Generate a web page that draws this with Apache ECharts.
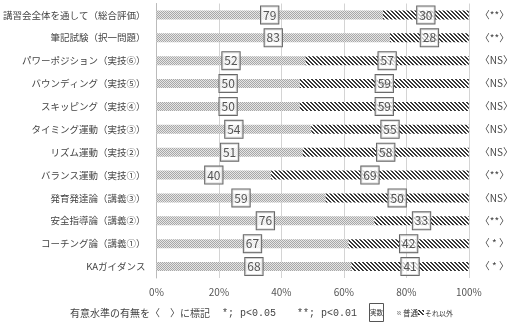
<!DOCTYPE html>
<html><head><meta charset="utf-8">
<script src="https://cdn.jsdelivr.net/npm/echarts@6/dist/echarts.min.js"></script>
<style>html,body{margin:0;padding:0;background:#fff}#c{width:516px;height:329px}</style>
</head><body><div id="c"></div>
<script>
const categories = ['講習会全体を通して（総合評価）','筆記試験（択一問題）','パワーポジション（実技⑥）','バウンディング（実技⑤）','スキッピング（実技④）','タイミング運動（実技③）','リズム運動（実技②）','バランス運動（実技①）','発育発達論（講義③）','安全指導論（講義②）','コーチング論（講義①）','KAガイダンス'];
const futsuu = [79,83,52,50,50,54,51,40,59,76,67,68];
const sonota = [30,28,57,59,59,55,58,69,50,33,42,41];
const signif = ['〈**〉','〈**〉','〈NS〉','〈NS〉','〈NS〉','〈NS〉','〈NS〉','〈**〉','〈NS〉','〈**〉','〈 * 〉','〈 * 〉'];
const xTicks = [0,20,40,60,80,100];

function dotPattern(){
  const c=document.createElement('canvas');c.width=2;c.height=2;
  const g=c.getContext('2d');g.fillStyle='#e6e6e6';g.fillRect(0,0,2,2);
  g.fillStyle='#a8a8a8';g.fillRect(0,0,1,1);g.fillRect(1,1,1,1);
  return c;
}
function hatchPattern(){
  const c=document.createElement('canvas');c.width=4;c.height=4;
  const g=c.getContext('2d');g.fillStyle='#ffffff';g.fillRect(0,0,4,4);
  g.fillStyle='#3a3a3a';
  for(let y=0;y<4;y++){g.fillRect(y%4,y,1,1);g.fillRect((y+1)%4,y,1,1);}
  return c;
}
const dotImg=dotPattern(), hatchImg=hatchPattern();
const totals = futsuu.map((v,i)=>v+sonota[i]);
const pctF = futsuu.map((v,i)=>v/totals[i]*100);
const pctS = sonota.map((v,i)=>v/totals[i]*100);
const font='"Noto Sans CJK JP", sans-serif';
const mono='"Liberation Mono", monospace';
const lbl = (arr)=>({show:true,position:'inside',formatter:p=>String(arr[p.dataIndex]),
  fontFamily:font,fontSize:12,lineHeight:14,color:'#555',borderColor:'#666',borderWidth:1,padding:[2,2,1,2],
  backgroundColor:'rgba(255,255,255,0.75)'});

const chart=echarts.init(document.getElementById('c'),null,{renderer:'canvas'});
chart.setOption({
  animation:false,
  grid:{left:143,right:44,top:3.5,bottom:51,containLabel:false},
  xAxis:{type:'value',min:0,max:100,interval:20,
    axisLabel:{formatter:v=>xTicks.includes(v)?v+'%':'',fontFamily:font,fontSize:10,color:'#555',margin:9},
    axisLine:{show:false},axisTick:{show:false},
    splitLine:{show:true,lineStyle:{color:'#d4d4d4',width:1}}},
  yAxis:[{type:'category',data:categories,inverse:true,
    axisLine:{show:true,lineStyle:{color:'#bbb'}},axisTick:{show:false},
    axisLabel:{fontFamily:font,fontSize:9.5,color:'#444',margin:11}},
   {type:'category',data:signif,inverse:true,position:'right',
    axisLine:{show:false},axisTick:{show:false},
    axisLabel:{fontFamily:font,fontSize:10,color:'#444',margin:11,align:'left'}}],
  series:[
    {name:'普通',type:'bar',stack:'s',barWidth:9,data:pctF,
     itemStyle:{color:{image:dotImg,repeat:'repeat'}},label:lbl(futsuu)},
    {name:'それ以外',type:'bar',stack:'s',barWidth:9,data:pctS,
     itemStyle:{color:{image:hatchImg,repeat:'repeat'}},label:lbl(sonota)}
  ],
  graphic:[
    {type:'text',x:70,y:313,style:{text:'有意水準の有無を〈　〉に標記',font:'10px '+font,fill:'#444',verticalAlign:'middle'}},
    {type:'text',x:222,y:313,style:{text:'*; p<0.05',font:'10px '+mono,fill:'#444',verticalAlign:'middle'}},
    {type:'text',x:297,y:313,style:{text:'**; p<0.01',font:'10px '+mono,fill:'#444',verticalAlign:'middle'}},
    {type:'rect',shape:{x:369.5,y:303.5,width:14,height:18},style:{fill:'#fff',stroke:'#555',lineWidth:1}},
    {type:'text',x:376.5,y:313,style:{text:'実数',font:'6.5px '+font,fill:'#333',align:'center',verticalAlign:'middle'}},
    {type:'rect',shape:{x:397,y:311,width:4,height:4},style:{fill:{image:dotImg,repeat:'repeat'}}},
    {type:'text',x:403,y:313,style:{text:'普通',font:'7.5px '+font,fill:'#333',verticalAlign:'middle'}},
    {type:'rect',shape:{x:418,y:310,width:6,height:5},style:{fill:{image:hatchImg,repeat:'repeat'}}},
    {type:'text',x:425,y:313,style:{text:'それ以外',font:'7px '+font,fill:'#333',verticalAlign:'middle'}}
  ]
});
</script></body></html>
